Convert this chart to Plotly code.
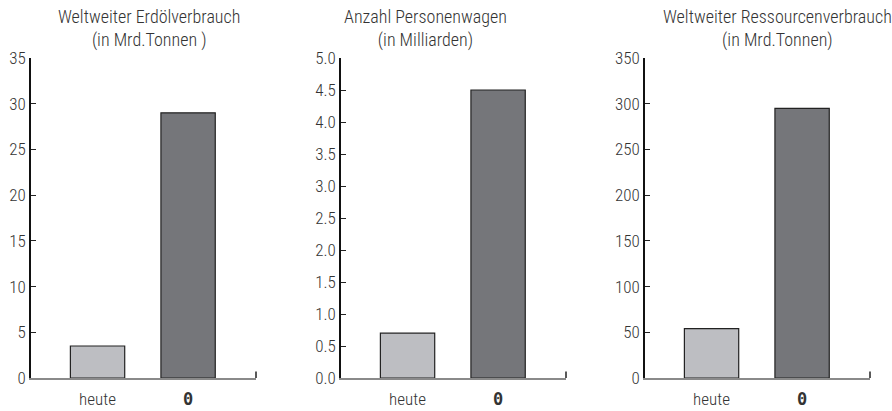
import plotly.graph_objects as go

categories = ["heute", "<b><span style='font-family:DejaVu Sans Mono'>0</span></b>"]
oil = [3.5, 29]
cars = [0.7, 4.5]
resources = [54, 295]
titles = ["Weltweiter Erdölverbrauch<br>(in Mrd.Tonnen )",
          "Anzahl Personenwagen<br>(in Milliarden)",
          "Weltweiter Ressourcenverbrauch<br>(in Mrd.Tonnen)"]
y_ranges = [[0, 35], [0, 5.0], [0, 350]]
y_dticks = [5, 0.5, 50]
y_formats = ["d", ".1f", "d"]

FONT = "Roboto Condensed, Liberation Sans Narrow, sans-serif"
light = "#bdbec2"
dark = "#75767a"

fig = go.Figure()
series = [oil, cars, resources]
xdomains = [[31/892, 256/892], [341/892, 566/892], [645/892, 870/892]]
ydomain = [(411-378)/411, (411-58)/411]
title_x = [149/892, 425/892, 777/892]

for i, vals in enumerate(series):
    xa = "x" if i == 0 else f"x{i+1}"
    ya = "y" if i == 0 else f"y{i+1}"
    fig.add_trace(go.Bar(
        x=[0, 1], y=vals, xaxis=xa, yaxis=ya, width=0.6,
        marker=dict(color=[light, dark], line=dict(color="#222222", width=1.2)),
        showlegend=False, hoverinfo="skip"))
    key = "" if i == 0 else str(i+1)
    fig.layout["xaxis" + key] = dict(
        domain=xdomains[i], anchor=ya, range=[-0.735, 1.75],
        tickvals=[0, 1], ticktext=categories, ticks="", showgrid=False,
        zeroline=False, showline=True, linecolor="#8a8a8a", linewidth=1.5,
        automargin=False, ticklabelstandoff=5,
        tickfont=dict(family=FONT, size=17, color="#333333", weight=300),
        fixedrange=True)
    fig.layout["yaxis" + key] = dict(
        domain=ydomain, anchor=xa, range=y_ranges[i], dtick=y_dticks[i],
        tick0=0, tickformat=y_formats[i], ticks="inside", ticklen=5,
        tickcolor="#222222", tickwidth=1.2, showgrid=False, zeroline=False,
        showline=True, linecolor="#111111", linewidth=1.5, automargin=False,
        tickfont=dict(family=FONT, size=17, color="#333333", weight=300),
        fixedrange=True)
    fig.add_annotation(text=titles[i], xref="paper", yref="paper",
                       x=title_x[i], y=1.0, yshift=-4, xanchor="center", yanchor="top",
                       showarrow=False, align="center",
                       font=dict(family=FONT, size=18, color="#333333", weight=300))
    fig.add_shape(type="line", xref=xa + " domain", yref=ya + " domain",
                  x0=1, x1=1, y0=0, y1=0.02,
                  line=dict(color="#222222", width=1.5))

fig.update_layout(width=892, height=411, margin=dict(l=0, r=0, t=0, b=0),
                  plot_bgcolor="white", paper_bgcolor="white",
                  font=dict(family=FONT))
fig.write_html("out.html", config={"displayModeBar": False},
               post_script="document.body.style.margin='0px';")
